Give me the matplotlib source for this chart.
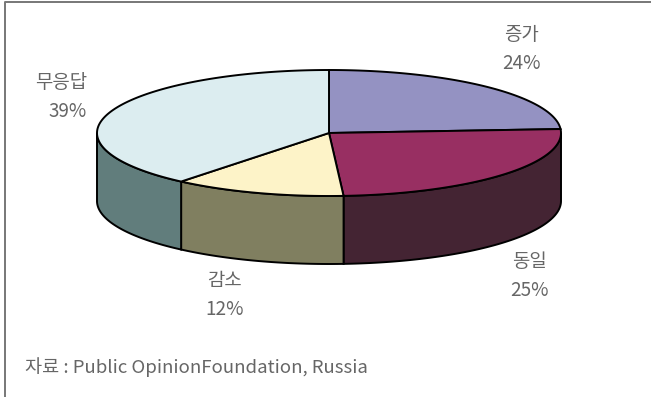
import numpy as np
import matplotlib
matplotlib.use("Agg")
import matplotlib.pyplot as plt

plt.rcParams['font.family'] = ['Noto Sans CJK KR', 'DejaVu Sans']

labels = ["증가", "동일", "감소", "무응답"]
shares = [24, 25, 12, 39]
top_colors = ["#9492c2", "#982f62", "#fdf3c8", "#dcedf0"]
side_colors = ["#4c4c64", "#442433", "#807f60", "#617d7c"]
label_pos = [(521, 49, "center"), (529, 276, "center"), (225, 295, "center"), (87, 97, "right")]

# ellipse of the pie in pixel coordinates
cx, cy = 329, 133
rx, ry = 232, 63
depth = 68

W, H = 651, 397
fig = plt.figure(figsize=(W / 100, H / 100), dpi=100)
ax = fig.add_axes([0, 0, 1, 1])
ax.set_xlim(0, W)
ax.set_ylim(H, 0)
ax.axis("off")


def rim(a0, a1, n=120):
    # angles run clockwise from 12 o'clock
    t = np.radians(np.linspace(a0, a1, n))
    return cx + rx * np.sin(t), cy - ry * np.cos(t)


edges = np.cumsum([0] + shares) * 3.6

# side walls, only the front half (90..270 degrees) is visible
for i in range(len(shares)):
    a0, a1 = max(edges[i], 90), min(edges[i + 1], 270)
    if a1 <= a0:
        continue
    x, y = rim(a0, a1)
    ax.fill(np.r_[x, x[::-1]], np.r_[y, y[::-1] + depth],
            fc=side_colors[i], ec="black", lw=1.4, zorder=2)

# top face
for i in range(len(shares)):
    x, y = rim(edges[i], edges[i + 1])
    ax.fill(np.r_[cx, x], np.r_[cy, y], fc=top_colors[i], ec="black", lw=1.4, zorder=3)

for name, val, (lx, ly, ha) in zip(labels, shares, label_pos):
    ax.text(lx, ly, f"{name}\n{val}%", ha=ha, va="center", fontsize=13.6, color="#666666",
            linespacing=1.45, fontweight="light", multialignment=ha)

ax.text(25, 367, "자료 : Public OpinionFoundation, Russia", ha="left", va="center",
        fontsize=13.4, color="#666666", fontweight="light")

# frame: only top and left are drawn
ax.plot([W, 5, 5], [2, 2, H], color="#777777", lw=1.4, clip_on=False)

fig.savefig("out.png", dpi=100)
